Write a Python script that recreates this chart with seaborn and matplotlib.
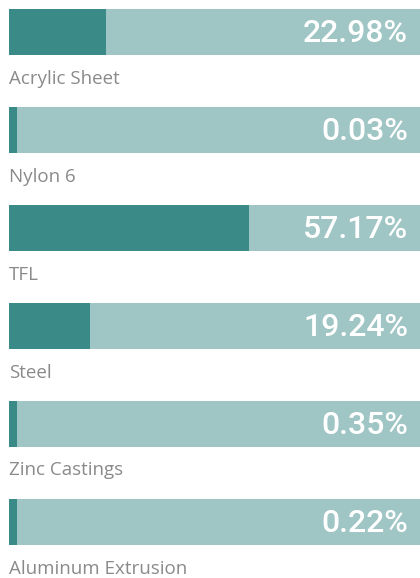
import matplotlib
matplotlib.use("Agg")
import matplotlib.pyplot as plt
import seaborn as sns
import pandas as pd

# Share of total by material
materials = ["Acrylic Sheet", "Nylon 6", "TFL", "Steel", "Zinc Castings", "Aluminum Extrusion"]
shares = [22.98, 0.03, 57.17, 19.24, 0.35, 0.22]
total = [100.0] * len(materials)

DARK = "#3A8A88"
LIGHT = "#9FC5C4"
LABEL_GREY = "#8A8A8A"
MIN_VISIBLE = 1.9  # smallest drawn width so tiny shares stay visible

df = pd.DataFrame({
    "material": materials,
    "share": shares,
    "shown": [max(s, MIN_VISIBLE) for s in shares],
    "total": total,
})

sns.set_theme(style="white")
plt.rcParams["font.family"] = ["Open Sans", "DejaVu Sans"]

W, H, DPI = 420, 578, 100
fig = plt.figure(figsize=(W / DPI, H / DPI), dpi=DPI)
ax = fig.add_axes([0, 0, 1, 1])

px_per_unit = 4.2
left_px = 9
row_px = 98
bar_px = 46
first_center_px = 9 + bar_px / 2

sns.barplot(data=df, x="total", y="material", orient="h", color=LIGHT,
            saturation=1, width=bar_px / row_px, linewidth=0, ax=ax)
sns.barplot(data=df, x="shown", y="material", orient="h", color=DARK,
            saturation=1, width=bar_px / row_px, linewidth=0, ax=ax)

ax.set_xlim(-left_px / px_per_unit, (W - left_px) / px_per_unit)
ax.set_ylim((H - first_center_px) / row_px, -first_center_px / row_px)
ax.axis("off")

value_x = (408 - left_px) / px_per_unit
label_x = 0
for i, (name, val) in enumerate(zip(materials, shares)):
    ax.text(value_x, i + 9.7 / row_px, f"{val:.2f}%", ha="right", va="baseline",
            color="white", fontsize=23, fontweight="medium",
            family=["Roboto", "DejaVu Sans"])
    ax.text(label_x, i + 51.5 / row_px, name, ha="left", va="baseline",
            color=LABEL_GREY, fontsize=13.5, fontweight="normal")

fig.savefig("out.png", dpi=DPI)
